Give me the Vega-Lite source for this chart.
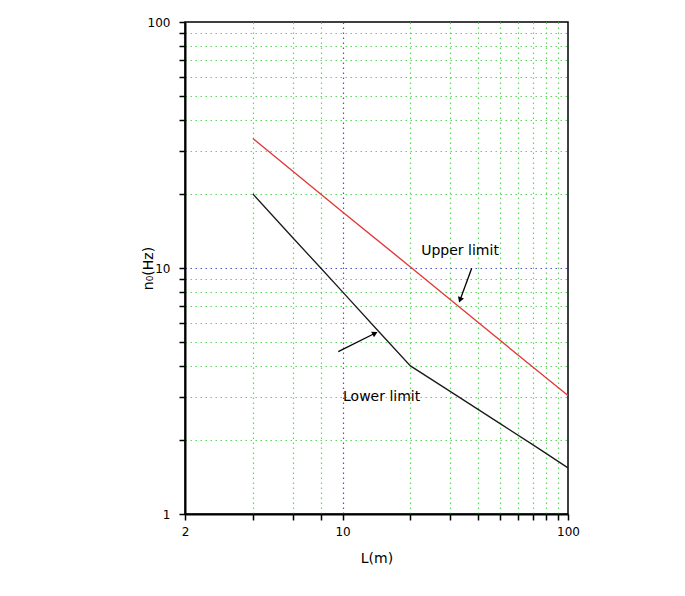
{
  "$schema": "https://vega.github.io/schema/vega-lite/v6.json",
  "autosize": "none",
  "width": 383,
  "height": 492,
  "padding": {"left": 185, "top": 22, "right": 117, "bottom": 82},
  "background": "white",
  "config": {
    "font": "DejaVu Sans",
    "view": {"stroke": "black", "strokeWidth": 1.5},
    "axis": {
      "domainColor": "black",
      "domainWidth": 2,
      "tickColor": "black",
      "tickWidth": 1.5,
      "tickSize": 6,
      "labelColor": "black",
      "labelFontSize": 12,
      "labelFlush": false,
      "labelOverlap": false,
      "titleColor": "black",
      "titleFontSize": 14,
      "titleFontWeight": "normal",
      "gridDash": [1.5, 3.5],
      "gridWidth": 1.2
    }
  },
  "datasets": {
    "curves": [
      {"series": "Upper limit", "L": 4, "n0": 33.6},
      {"series": "Upper limit", "L": 6, "n0": 24.8},
      {"series": "Upper limit", "L": 10, "n0": 16.9},
      {"series": "Upper limit", "L": 20, "n0": 10.1},
      {"series": "Upper limit", "L": 40, "n0": 6.0},
      {"series": "Upper limit", "L": 70, "n0": 3.95},
      {"series": "Upper limit", "L": 100, "n0": 3.03},
      {"series": "Lower limit", "L": 4, "n0": 20},
      {"series": "Lower limit", "L": 6, "n0": 13.3},
      {"series": "Lower limit", "L": 8, "n0": 10},
      {"series": "Lower limit", "L": 10, "n0": 8},
      {"series": "Lower limit", "L": 14, "n0": 5.7},
      {"series": "Lower limit", "L": 20, "n0": 4},
      {"series": "Lower limit", "L": 30, "n0": 3.15},
      {"series": "Lower limit", "L": 50, "n0": 2.33},
      {"series": "Lower limit", "L": 70, "n0": 1.91},
      {"series": "Lower limit", "L": 100, "n0": 1.54}
    ],
    "labels": [
      {"text": "Upper limit", "L": 33.2, "n0": 11.76},
      {"text": "Lower limit", "L": 14.9, "n0": 3.0}
    ],
    "arrows": [
      {"which": "upper", "L": 37.4, "n0": 9.97, "L2": 33.2, "n02": 7.41},
      {"which": "lower", "L": 9.57, "n0": 4.57, "L2": 13.93, "n02": 5.43}
    ]
  },
  "encoding": {
    "x": {
      "field": "L", "type": "quantitative",
      "scale": {"type": "log", "domain": [2, 100], "nice": false},
      "axis": {
        "title": "L(m)",
        "values": [2, 4, 6, 8, 10, 20, 30, 40, 50, 60, 70, 80, 90, 100],
        "labelExpr": "datum.value == 2 || datum.value == 10 || datum.value == 100 ? format(datum.value, 'd') : ''",
        "labelPadding": 6,
        "titlePadding": 14,
        "grid": true,
        "gridColor": {"condition": {"test": "datum.value == 10", "value": "#4a55cc"}, "value": "#5fd85f"},
        "gridOpacity": {"condition": {"test": "datum.value == 2 || datum.value == 100", "value": 0}, "value": 1}
      }
    },
    "y": {
      "field": "n0", "type": "quantitative",
      "scale": {"type": "log", "domain": [1, 100], "nice": false},
      "axis": {
        "title": "n₀(Hz)",
        "values": [1, 2, 3, 4, 5, 6, 7, 8, 9, 10, 20, 30, 40, 50, 60, 70, 80, 90, 100],
        "labelExpr": "datum.value == 1 || datum.value == 10 || datum.value == 100 ? format(datum.value, 'd') : ''",
        "labelPadding": 9,
        "titleX": -37,
        "titleY": 246,
        "titleAlign": "center",
        "titleBaseline": "middle",
        "grid": true,
        "gridColor": {"condition": {"test": "datum.value == 10", "value": "#4a55cc"}, "value": "#5fd85f"},
        "gridOpacity": {"condition": {"test": "datum.value == 1 || datum.value == 100", "value": 0}, "value": 1}
      }
    }
  },
  "layer": [
    {
      "data": {"name": "curves"},
      "transform": [{"filter": "datum.series == 'Upper limit'"}],
      "mark": {"type": "line", "color": "#e23a3a", "strokeWidth": 1.4},
      "encoding": {}
    },
    {
      "data": {"name": "curves"},
      "transform": [{"filter": "datum.series == 'Lower limit'"}],
      "mark": {"type": "line", "color": "#1a1a1a", "strokeWidth": 1.3},
      "encoding": {}
    },
    {
      "data": {"name": "labels"},
      "mark": {"type": "text", "fontSize": 14, "color": "black", "align": "center", "baseline": "middle"},
      "encoding": {"text": {"field": "text"}}
    },
    {
      "data": {"name": "arrows"},
      "mark": {"type": "rule", "color": "black", "strokeWidth": 1.3},
      "encoding": {"x2": {"field": "L2"}, "y2": {"field": "n02"}}
    },
    {
      "data": {"name": "arrows"},
      "transform": [{"filter": "datum.which == 'upper'"}],
      "mark": {"type": "point", "shape": "triangle-up", "filled": true, "color": "black", "size": 40, "opacity": 1, "angle": 200},
      "encoding": {"x": {"field": "L2", "type": "quantitative"}, "y": {"field": "n02", "type": "quantitative"}}
    },
    {
      "data": {"name": "arrows"},
      "transform": [{"filter": "datum.which == 'lower'"}],
      "mark": {"type": "point", "shape": "triangle-up", "filled": true, "color": "black", "size": 40, "opacity": 1, "angle": 63},
      "encoding": {"x": {"field": "L2", "type": "quantitative"}, "y": {"field": "n02", "type": "quantitative"}}
    }
  ]
}
